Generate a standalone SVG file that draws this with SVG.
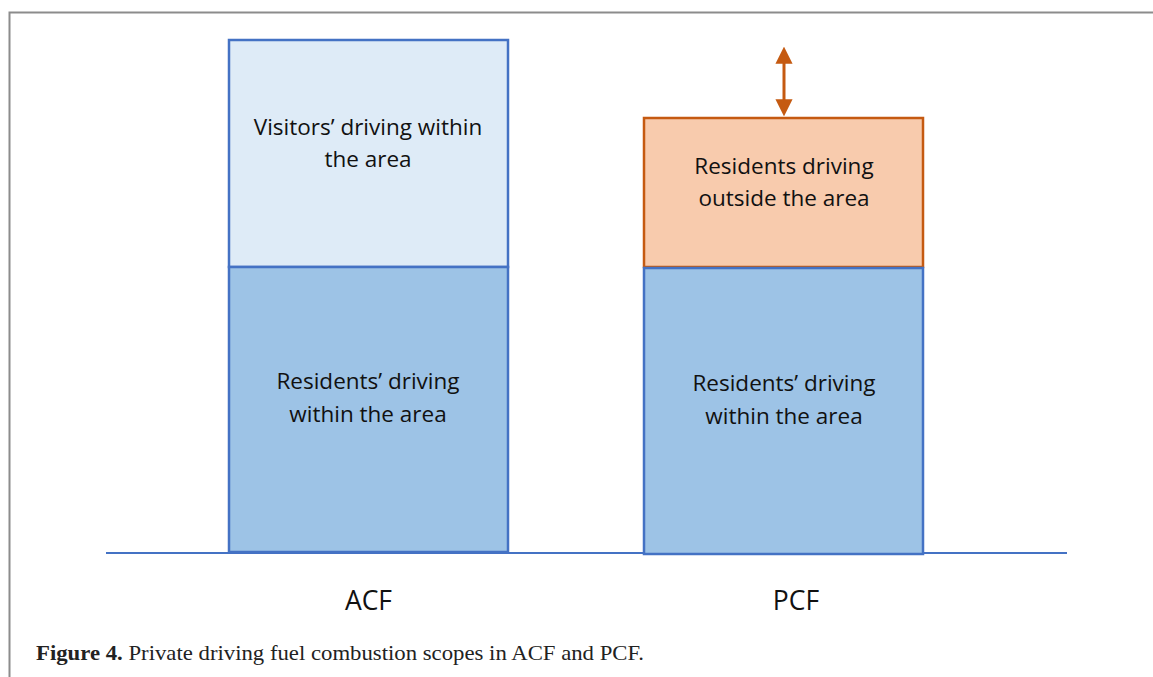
<svg xmlns="http://www.w3.org/2000/svg" width="1153" height="677" viewBox="0 0 1153 677">
<style>
.lbl{font-family:"Open Sans","Liberation Sans",sans-serif;font-size:22.5px;fill:#111;text-anchor:middle}
.ax{font-family:"Open Sans","Liberation Sans",sans-serif;font-size:26.5px;fill:#111;text-anchor:middle}
.cap{font-family:"Liberation Serif",serif;font-size:21px;fill:#222}
.blue{stroke:#4472C4;stroke-width:2.5}
</style>
<defs>
<marker id="ah" viewBox="0 0 10 10" refX="1" refY="5" markerWidth="5.7" markerHeight="5.7" orient="auto-start-reverse" markerUnits="strokeWidth">
<path d="M0,0 L10,5 L0,10 z" fill="#C55A11"/>
</marker>
</defs>
<rect width="1153" height="677" fill="#fff"/>
<path d="M9.5,677 V12.5 H1153" fill="none" stroke="#8c8c8c" stroke-width="2"/>
<g id="baseline"><line x1="106" y1="553" x2="1067" y2="553" stroke="#4472C4" stroke-width="2"/></g>
<g id="acf-visitors">
<rect x="229" y="40" width="279" height="227" fill="#DEEBF7" class="blue"/>
<text class="lbl" x="368" y="135">Visitors’ driving within</text>
<text class="lbl" x="368" y="167">the area</text>
</g>
<g id="acf-residents">
<rect x="229" y="267" width="279" height="285" fill="#9DC3E6" class="blue"/>
<text class="lbl" x="368" y="389">Residents’ driving</text>
<text class="lbl" x="368" y="422">within the area</text>
</g>
<g id="pcf-outside">
<rect x="644" y="118" width="279" height="149" fill="#F8CBAD" stroke="#C55A11" stroke-width="2.5"/>
<text class="lbl" x="784" y="174">Residents driving</text>
<text class="lbl" x="784" y="206">outside the area</text>
</g>
<g id="pcf-residents">
<rect x="644" y="268" width="279" height="286" fill="#9DC3E6" class="blue"/>
<text class="lbl" x="784" y="391">Residents’ driving</text>
<text class="lbl" x="784" y="424">within the area</text>
</g>
<g id="connectors">
<line x1="784" y1="62" x2="784" y2="101" stroke="#C55A11" stroke-width="3" marker-start="url(#ah)" marker-end="url(#ah)"/>
</g>
<text class="ax" x="368.5" y="610">ACF</text>
<text class="ax" x="796" y="610">PCF</text>
<text class="cap" x="36" y="660" textLength="608" lengthAdjust="spacingAndGlyphs"><tspan font-weight="bold">Figure 4.</tspan> Private driving fuel combustion scopes in ACF and PCF.</text>
</svg>
